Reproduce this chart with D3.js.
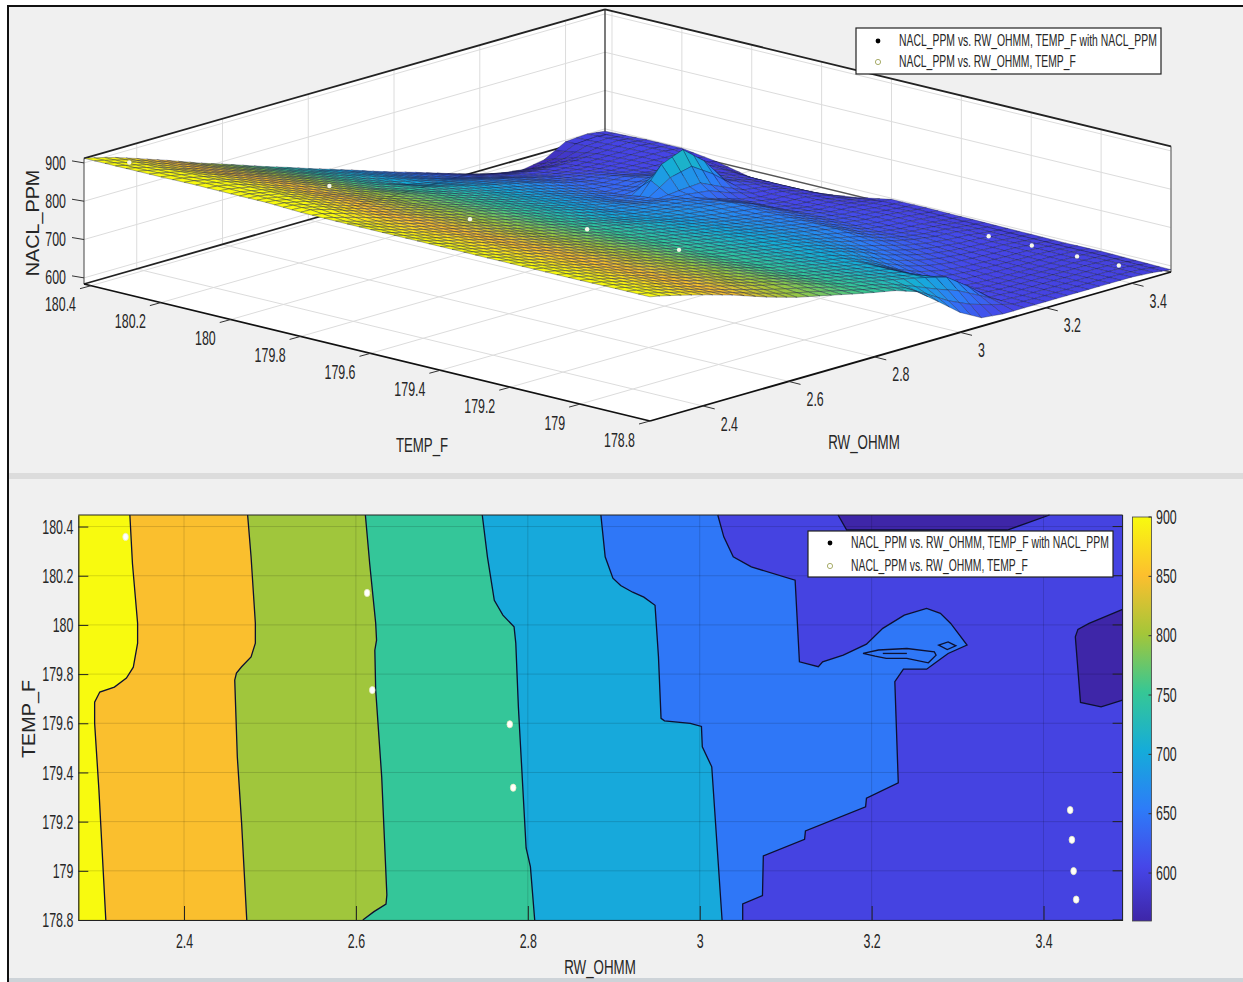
<!DOCTYPE html>
<html>
<head>
<meta charset="utf-8">
<script src="https://cdn.jsdelivr.net/npm/d3@7"></script>
<style>
  html, body { margin: 0; background: #fff; }
  text { font-family: "Liberation Sans", Arial, sans-serif; fill: #262626; }
</style>
</head>
<body>
<svg id="chart" width="1243" height="982"></svg>
<script>
const rwColumns = [2.277,2.3,2.35,2.4,2.47,2.55,2.62,2.7,2.75,2.8,2.85,2.9,2.95,3.0,3.05,3.1,3.15,3.2,3.25,3.3,3.35,3.4,3.45,3.492];
const tempRows = [180.42,180.3,180.2,180.1,180,179.95,179.9,179.85,179.8,179.7,179.6,179.5,179.4,179.3,179.2,179.1,179,178.9,178.8];
const zGrid = [
  [912,906,891,872,845,812,786,755,737,718,700,682,663,645,628,610,592,575,562,555,565,596,600,594],
  [912,906,892,873,848,818,792,762,743,725,708,690,672,655,640,626,614,604,598,596,598,600,604,598],
  [912,908,896,879,853,823,797,766,747,728,709,697,684,671,658,645,630,618,610,606,604,604,604,598],
  [913,910,898,881,856,826,799,768,751,739,725,711,697,684,671,656,640,628,626,614,607,603,596,585],
  [912,910,899,882,855,825,801,776,761,745,730,715,700,686,671,655,638,636,642,634,620,606,592,565],
  [912,910,899,881,855,825,800,776,761,746,730,715,700,686,671,654,640,644,668,645,621,606,590,564],
  [912,909,898,879,854,824,799,776,761,746,730,715,700,686,671,654,648,715,738,692,625,606,590,563],
  [910,908,895,876,851,822,800,776,761,745,730,715,700,685,673,660,652,658,662,636,612,604,590,565],
  [908,907,892,872,847,820,800,776,761,745,730,715,700,683,675,668,662,650,632,615,605,603,590,567],
  [907,899,883,868,847,822,800,776,761,745,730,715,701,690,682,675,668,660,640,615,606,603,592,580],
  [907,899,883,868,847,822,800,777,762,747,735,722,710,697,685,674,665,657,640,620,610,606,600,597],
  [907,899,884,870,848,823,801,778,763,748,736,724,712,701,688,678,668,658,638,620,612,608,602,597],
  [907,900,885,871,849,824,803,779,764,749,737,726,715,703,692,680,669,658,635,618,610,606,600,596],
  [907,900,885,871,850,825,804,780,765,749,738,726,714,704,692,678,663,649,632,620,612,608,600,595],
  [907,901,886,871,850,826,805,781,765,749,738,726,714,704,691,672,650,633,620,612,607,604,598,594],
  [907,902,887,872,850,826,806,782,766,750,738,726,714,703,680,650,628,615,608,605,603,602,598,593],
  [907,902,888,873,851,827,806,783,767,751,739,727,715,704,672,640,610,604,602,601,600,600,598,594],
  [908,903,888,873,851,827,806,784,768,752,741,729,717,705,690,650,606,602,601,601,600,600,598,592],
  [908,903,889,874,851,820,797,777,764,752,741,722,680,636,606,600,600,600,600,600,600,600,596,590]
];

// measured points
const pointRw = [2.332,2.613,2.619,2.779,2.783,3.431,3.433,3.435,3.438];
const pointTemp = [180.358,180.13,179.735,179.596,179.338,179.247,179.126,178.999,178.883];
const pointNacl = [897,796,795,748,750,598,600,599,600];

// contour lines as [rw, temp]
const contour900 = [[2.337,180.447],[2.34,180.25],[2.346,180.007],[2.346,179.926],[2.341,179.828],[2.333,179.784],[2.319,179.747],[2.302,179.727],[2.296,179.686],[2.296,179.6],[2.301,179.328],[2.309,178.8]];
const contour850 = [[2.474,180.447],[2.478,180.277],[2.483,180.007],[2.483,179.926],[2.478,179.87],[2.467,179.83],[2.461,179.804],[2.459,179.776],[2.462,179.464],[2.467,179.194],[2.473,178.8]];
const contour800 = [[2.611,180.447],[2.616,180.25],[2.623,180.007],[2.624,179.938],[2.622,179.897],[2.623,179.735],[2.63,179.382],[2.636,178.902],[2.635,178.865],[2.621,178.834],[2.608,178.8]];
const contour750 = [[2.747,180.447],[2.753,180.277],[2.761,180.1],[2.771,180.04],[2.784,179.992],[2.786,179.926],[2.789,179.667],[2.798,179.093],[2.803,179.017],[2.808,178.8]];
const contour700 = [[2.885,180.447],[2.89,180.277],[2.899,180.19],[2.908,180.16],[2.922,180.133],[2.935,180.113],[2.948,180.08],[2.952,179.87],[2.955,179.62],[2.959,179.61],[2.989,179.6],[3.002,179.587],[3.003,179.504],[3.014,179.423],[3.026,178.8]];
const contour650 = [[3.021,180.447],[3.028,180.358],[3.039,180.277],[3.06,180.236],[3.111,180.182],[3.116,179.85],[3.138,179.83],[3.143,179.85],[3.167,179.877],[3.194,179.922],[3.213,179.986],[3.238,180.04],[3.264,180.067],[3.28,180.047],[3.292,180.006],[3.311,179.918],[3.289,179.884],[3.273,179.843],[3.264,179.82],[3.237,179.82],[3.227,179.769],[3.231,179.358],[3.194,179.295],[3.193,179.26],[3.123,179.162],[3.122,179.128],[3.074,179.061],[3.073,178.899],[3.05,178.865],[3.05,178.8]];
const contour600Top = [[3.161,180.447],[3.171,180.386],[3.358,180.386],[3.407,180.447]];
const contour600Right = [[3.492,180.063],[3.453,180.006],[3.44,179.982],[3.437,179.952],[3.443,179.685],[3.467,179.667],[3.492,179.694]];
const island700 = [[3.19,179.884],[3.208,179.898],[3.241,179.904],[3.273,179.89],[3.275,179.877],[3.266,179.846],[3.241,179.864],[3.217,179.864],[3.204,179.873]];
const island700Small = [[3.278,179.918],[3.289,179.931],[3.298,179.915],[3.288,179.9]];
const island750 = [[3.213,179.884],[3.241,179.884]];

// tick labels
const rwTicks = [2.4,2.6,2.8,3,3.2,3.4];
const tempTicks = [180.4,180.2,180,179.8,179.6,179.4,179.2,179,178.8];
const zTicks = [600,700,800,900];
const barTicks = [600,650,700,750,800,850,900];
const legendLabels = ['NACL_PPM vs. RW_OHMM, TEMP_F with NACL_PPM','NACL_PPM vs. RW_OHMM, TEMP_F'];
const legendWidths = [258,177];
const parulaStops = ['#3e26a8','#4646e8','#2d7cf8','#15acd9','#36c795','#a4c639','#fcbf2e','#f8fa0f'];

const svg = d3.select('#chart');

const parula = d3.scaleLinear()
  .domain(d3.range(parulaStops.length).map(i => 556 + i * (900 - 556) / (parulaStops.length - 1)))
  .range(parulaStops)
  .clamp(true);

// squeezed MATLAB-style text
function label(parent, x, y, str, size, sx, anchor, rotate) {
  return parent.append('text')
    .attr('transform', `translate(${x},${y})` + (rotate ? ' rotate(-90)' : '') + ` scale(${sx},1)`)
    .attr('text-anchor', anchor || 'middle')
    .attr('dominant-baseline', 'central')
    .style('font-size', size + 'px')
    .text(str);
}

// window background
svg.append('rect').attr('x', 8).attr('y', 6).attr('width', 1235).attr('height', 976).attr('fill', '#f0f0f0');
svg.append('rect').attr('x', 9).attr('y', 473).attr('width', 1234).attr('height', 6).attr('fill', '#dcdcdc');
svg.append('rect').attr('x', 9).attr('y', 978).attr('width', 1234).attr('height', 4).attr('fill', '#cdd3d8');
svg.append('path').attr('d', 'M8,982V6H1243').attr('fill', 'none').attr('stroke', '#111').attr('stroke-width', 2);

// ---------- 3D view ----------
const temp3d = d3.scaleLinear().domain([180.42, 178.8]).range([0, 1]);
const rw3d = d3.scaleLinear().domain([2.277, 3.492]).range([0, 1]);
const z3d = d3.scaleLinear().domain([584, 912]).range([0, 125.7]);

function project(rw, temp, z) {
  const t = temp3d(temp), u = rw3d(rw);
  return [84 + 566 * t + 521 * u, 284 + 137 * t - 149 * u - z3d(z)];
}
const line3d = d3.line();
const rwA = 2.277, rwB = 3.492, tA = 180.42, tB = 178.8, zA = 584, zB = 912;

const view = svg.append('g');
// walls and floor
const quads = [
  [[rwA,tA,zA],[rwB,tA,zA],[rwB,tA,zB],[rwA,tA,zB]],
  [[rwB,tA,zA],[rwB,tB,zA],[rwB,tB,zB],[rwB,tA,zB]],
  [[rwA,tA,zA],[rwB,tA,zA],[rwB,tB,zA],[rwA,tB,zA]]
];
view.selectAll('path.wall').data(quads).join('path')
  .attr('class', 'wall')
  .attr('d', q => line3d(q.map(p => project(...p))) + 'Z')
  .attr('fill', '#fff');

// grid
const gridLines = [];
rwTicks.forEach(r => {
  gridLines.push([[r,tB,zA],[r,tA,zA]]);
  gridLines.push([[r,tA,zA],[r,tA,zB]]);
});
tempTicks.forEach(t => {
  gridLines.push([[rwA,t,zA],[rwB,t,zA]]);
  gridLines.push([[rwB,t,zA],[rwB,t,zB]]);
});
zTicks.forEach(z => {
  gridLines.push([[rwA,tA,z],[rwB,tA,z]]);
  gridLines.push([[rwB,tA,z],[rwB,tB,z]]);
});
view.selectAll('path.grid').data(gridLines).join('path')
  .attr('class', 'grid')
  .attr('d', g => line3d(g.map(p => project(...p))))
  .attr('fill', 'none')
  .attr('stroke', '#dcdcdc')
  .attr('stroke-width', 1);

// box edges behind the surface
const edges = [
  [[[rwA,tA,zA],[rwA,tA,zB]], '#444', 1],
  [[[rwB,tA,zA],[rwB,tA,zB]], '#222', 1.2],
  [[[rwB,tB,zA],[rwB,tB,zB]], '#555', 1],
  [[[rwA,tA,zB],[rwB,tA,zB]], '#222', 1.8],
  [[[rwB,tA,zB],[rwB,tB,zB]], '#222', 1.8],
  [[[rwA,tA,zA],[rwB,tA,zA]], '#222', 1.8],
  [[[rwB,tA,zA],[rwB,tB,zA]], '#555', 1.3],
  [[[rwA,tA,zA],[rwA,tB,zA]], '#111', 1.8],
  [[[rwA,tB,zA],[rwB,tB,zA]], '#111', 1.8]
];
view.selectAll('path.edge').data(edges).join('path')
  .attr('class', 'edge')
  .attr('d', e => line3d(e[0].map(p => project(...p))))
  .attr('fill', 'none')
  .attr('stroke', e => e[1])
  .attr('stroke-width', e => e[2]);

// surface: each table cell is shaded as a few facets, back to front
function zAt(i, j, a, b) {
  const top = zGrid[i][j] + (zGrid[i][j + 1] - zGrid[i][j]) * b;
  const bot = zGrid[i + 1][j] + (zGrid[i + 1][j + 1] - zGrid[i + 1][j]) * b;
  return top + (bot - top) * a;
}
const facets = [];
for (let i = 0; i < tempRows.length - 1; i++) {
  const dt = tempRows[i] - tempRows[i + 1];
  const nt = Math.ceil(dt / 0.035);
  for (let a = 0; a < nt; a++) {
    for (let j = rwColumns.length - 2; j >= 0; j--) {
      const du = rwColumns[j + 1] - rwColumns[j];
      const nu = Math.max(1, Math.ceil(du / 0.03));
      for (let b = nu - 1; b >= 0; b--) {
        const cell = [[a, b], [a, b + 1], [a + 1, b + 1], [a + 1, b]].map(([ca, cb]) => {
          const fa = ca / nt, fb = cb / nu;
          return [rwColumns[j] + du * fb, tempRows[i] - dt * fa, zAt(i, j, fa, fb)];
        });
        facets.push(cell);
      }
    }
  }
}
view.append('g').selectAll('path').data(facets).join('path')
  .attr('d', f => line3d(f.map(p => project(...p))) + 'Z')
  .attr('fill', f => parula(d3.mean(f, p => p[2])))
  .attr('stroke', '#141a3c')
  .attr('stroke-opacity', 0.5)
  .attr('stroke-width', 0.7);

// measured points on the surface
view.append('g').selectAll('circle').data(pointRw).join('circle')
  .attr('cx', (d, i) => project(pointRw[i], pointTemp[i], pointNacl[i])[0])
  .attr('cy', (d, i) => project(pointRw[i], pointTemp[i], pointNacl[i])[1])
  .attr('r', 2.2)
  .attr('fill', '#f6f8ea');

// 3D axis ticks
const tickG = view.append('g');
tempTicks.forEach(t => {
  const [x, y] = project(rwA, t, zA);
  tickG.append('line').attr('x1', x).attr('y1', y).attr('x2', x - 11).attr('y2', y + 3).attr('stroke', '#333');
  label(tickG, x - 15, y + 19, String(t), 20, 0.62, 'end');
});
rwTicks.forEach(r => {
  const [x, y] = project(r, tB, zA);
  tickG.append('line').attr('x1', x).attr('y1', y).attr('x2', x + 12).attr('y2', y + 3).attr('stroke', '#333');
  label(tickG, x + 18, y + 18, String(r), 20, 0.62, 'start');
});
zTicks.forEach(z => {
  const [x, y] = project(rwA, tA, z);
  tickG.append('line').attr('x1', x - 12).attr('y1', y - 2).attr('x2', x).attr('y2', y).attr('stroke', '#333');
  label(tickG, 66, y, String(z), 20, 0.62, 'end');
});
label(view, 422, 445, 'TEMP_F', 21, 0.63);
label(view, 864, 442, 'RW_OHMM', 21, 0.635);
label(view, 33, 223, 'NACL_PPM', 18, 1.1, 'middle', true);

// ---------- filled contour view ----------
const x2d = d3.scaleLinear().domain([2.277, 3.492]).range([78.3, 1122.6]);
const y2d = d3.scaleLinear().domain([178.8, 180.447]).range([920, 515]);
const line2d = d3.line().x(d => x2d(d[0])).y(d => y2d(d[1]));
const closed2d = d3.line().x(d => x2d(d[0])).y(d => y2d(d[1])).curve(d3.curveLinearClosed);

const plot = svg.append('g');
plot.append('rect')
  .attr('x', x2d(2.277)).attr('y', y2d(180.447))
  .attr('width', x2d(3.492) - x2d(2.277)).attr('height', y2d(178.8) - y2d(180.447))
  .attr('fill', parula(900));

// everything right of a line sits one level lower
const bands = [[contour900, 850], [contour850, 800], [contour800, 750], [contour750, 700], [contour700, 650], [contour650, 600]];
bands.forEach(([pts, level]) => {
  plot.append('path')
    .attr('d', closed2d(pts.concat([[3.492, 178.8], [3.492, 180.447]])))
    .attr('fill', parula(level));
});
[contour600Top, contour600Right].forEach(pts => {
  plot.append('path').attr('d', closed2d(pts)).attr('fill', parula(550));
});
[island700, island700Small].forEach(pts => {
  plot.append('path').attr('d', closed2d(pts)).attr('fill', parula(650));
});

// grid over the fills
plot.append('g').selectAll('line').data(rwTicks).join('line')
  .attr('x1', d => x2d(d)).attr('x2', d => x2d(d))
  .attr('y1', y2d(180.447)).attr('y2', y2d(178.8))
  .attr('stroke', '#000').attr('stroke-opacity', 0.14);
plot.append('g').selectAll('line').data(tempTicks).join('line')
  .attr('x1', x2d(2.277)).attr('x2', x2d(3.492))
  .attr('y1', d => y2d(d)).attr('y2', d => y2d(d))
  .attr('stroke', '#000').attr('stroke-opacity', 0.14);

// contour lines
[contour900, contour850, contour800, contour750, contour700, contour650, contour600Top, contour600Right, island750].forEach(pts => {
  plot.append('path').attr('d', line2d(pts)).attr('fill', 'none').attr('stroke', '#0d1030').attr('stroke-width', 1.3);
});
[island700, island700Small].forEach(pts => {
  plot.append('path').attr('d', closed2d(pts)).attr('fill', 'none').attr('stroke', '#0d1030').attr('stroke-width', 1.3);
});

// axes
const xAxis = plot.append('g').attr('transform', `translate(0,${y2d(178.8)})`)
  .call(d3.axisBottom(x2d).tickValues(rwTicks).tickSize(-14).tickSizeOuter(0).tickFormat(String));
const yAxis = plot.append('g').attr('transform', `translate(${x2d(2.277)},0)`)
  .call(d3.axisLeft(y2d).tickValues(tempTicks).tickSize(-10).tickSizeOuter(0).tickFormat(String));
[xAxis, yAxis].forEach(a => {
  a.select('.domain').attr('stroke', '#222').attr('stroke-width', 1.2);
  a.selectAll('.tick line').attr('stroke', '#222');
  a.selectAll('text').style('font-size', '20px').style('font-family', null).attr('fill', '#262626');
});
xAxis.selectAll('text').attr('y', 21).attr('dy', null)
  .attr('dominant-baseline', 'central').attr('transform', 'scale(0.62,1)');
yAxis.selectAll('text').attr('x', -8).attr('dy', null)
  .attr('dominant-baseline', 'central').attr('transform', 'scale(0.62,1)');
plot.append('path')
  .attr('d', `M${x2d(2.277)},${y2d(180.447)}H${x2d(3.492)}V${y2d(178.8)}`)
  .attr('fill', 'none').attr('stroke', '#222').attr('stroke-width', 1);

// right side ticks
plot.append('g').selectAll('line').data(tempTicks).join('line')
  .attr('x1', x2d(3.492) - 10).attr('x2', x2d(3.492))
  .attr('y1', d => y2d(d)).attr('y2', d => y2d(d))
  .attr('stroke', '#222');

// measured points
plot.append('g').selectAll('ellipse').data(pointRw).join('ellipse')
  .attr('cx', (d, i) => x2d(pointRw[i]))
  .attr('cy', (d, i) => y2d(pointTemp[i]))
  .attr('rx', 2.8).attr('ry', 3.6)
  .attr('fill', '#fff').attr('stroke', '#e8edc0').attr('stroke-width', 0.8);

label(plot, 600, 967, 'RW_OHMM', 21, 0.635);
label(plot, 29, 719, 'TEMP_F', 18, 1.1, 'middle', true);

// colorbar
const barScale = d3.scaleLinear().domain([559.6, 900]).range([921, 517]);
const barX = 1132.5, barW = 19;
const defs = svg.append('defs');
const grad = defs.append('linearGradient').attr('id', 'parulaBar').attr('x1', 0).attr('x2', 0).attr('y1', 1).attr('y2', 0);
parulaStops.forEach((c, i) => {
  grad.append('stop').attr('offset', (parula.domain()[i] - 559.6) / (900 - 559.6)).attr('stop-color', c);
});
svg.append('rect').attr('x', barX).attr('y', barScale(900)).attr('width', barW)
  .attr('height', barScale(559.6) - barScale(900))
  .attr('fill', 'url(#parulaBar)').attr('stroke', '#444').attr('stroke-width', 0.8);
barTicks.forEach(v => {
  svg.append('line').attr('x1', barX + barW - 3).attr('x2', barX + barW)
    .attr('y1', barScale(v)).attr('y2', barScale(v)).attr('stroke', '#333');
  label(svg, 1156, barScale(v), String(v), 20, 0.62, 'start');
});

// legends
function legend(x, y, w, h, markerX, textX, y1, y2) {
  const g = svg.append('g');
  g.append('rect').attr('x', x).attr('y', y).attr('width', w).attr('height', h)
    .attr('fill', '#fff').attr('stroke', '#222').attr('stroke-width', 1.2);
  g.append('circle').attr('cx', markerX).attr('cy', y1).attr('r', 2.4).attr('fill', '#000');
  g.append('circle').attr('cx', markerX).attr('cy', y2).attr('r', 2.6).attr('fill', 'none').attr('stroke', '#a8ad6a');
  legendLabels.forEach((t, i) => {
    const txt = label(g, textX, i ? y2 : y1, t, 16, 1, 'start');
    // squeeze to the width measured in the picture
    const sx = legendWidths[i] / txt.node().getComputedTextLength();
    txt.attr('transform', `translate(${textX},${i ? y2 : y1}) scale(${sx},1)`);
  });
}
legend(856, 28, 305, 46, 878, 899, 41, 62);
legend(808, 531, 305, 46, 830, 851, 543, 566);
</script>
</body>
</html>
